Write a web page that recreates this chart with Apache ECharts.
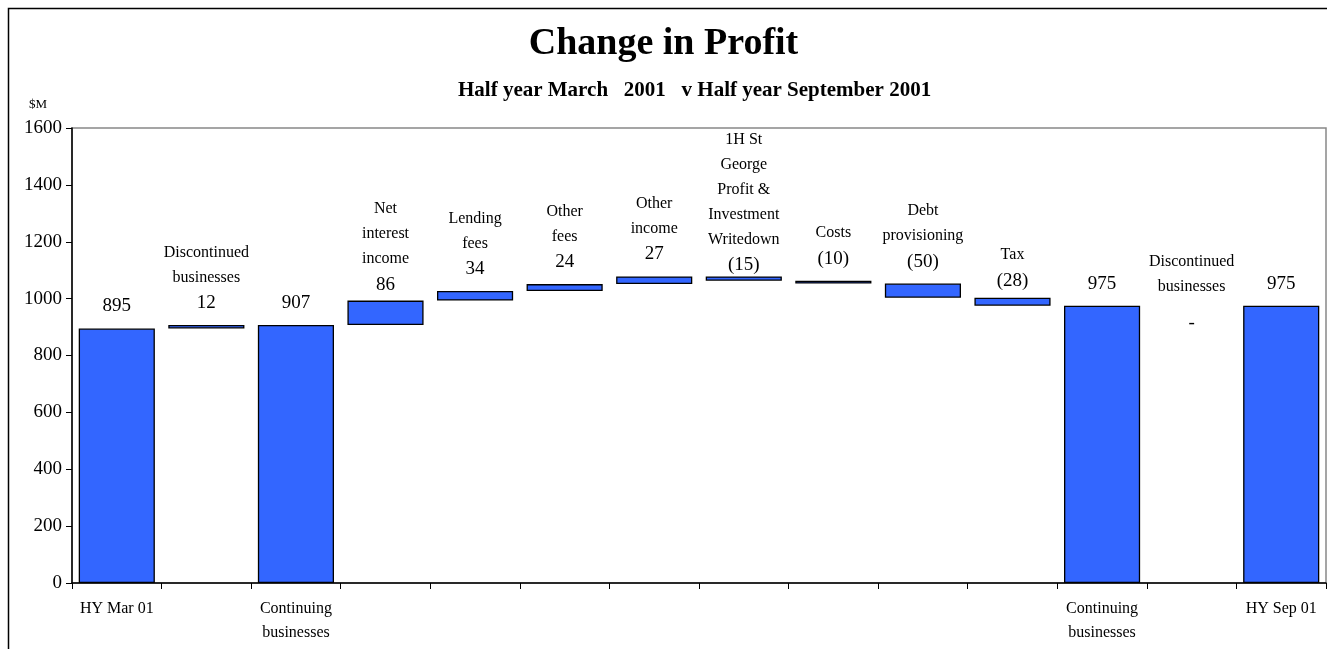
<!DOCTYPE html>
<html>
<head>
<meta charset="utf-8">
<script src="https://cdn.jsdelivr.net/npm/echarts@6/dist/echarts.min.js"></script>
<style>
  html, body { margin: 0; padding: 0; background: #fff; }
  #main { width: 1327px; height: 649px; }
</style>
</head>
<body>
<div id="main"></div>
<script>
// categories of the waterfall
var categories = ['HY Mar 01', 'Discontinued businesses', 'Continuing businesses', 'Net interest income',
  'Lending fees', 'Other fees', 'Other income', '1H St George Profit & Investment Writedown',
  'Costs', 'Debt provisioning', 'Tax', 'Continuing businesses', 'Discontinued businesses', 'HY Sep 01']
// text under the axis
var axisLabels = ['HY Mar 01', '', 'Continuing\nbusinesses', '', '', '', '', '', '', '', '',
  'Continuing\nbusinesses', '', 'HY Sep 01']
// text above the bars
var nameLabels = [[], ['Discontinued', 'businesses'], [], ['Net', 'interest', 'income'], ['Lending', 'fees'],
  ['Other', 'fees'], ['Other', 'income'], ['1H St', 'George', 'Profit &', 'Investment', 'Writedown'],
  ['Costs'], ['Debt', 'provisioning'], ['Tax'], [], ['Discontinued', 'businesses'], []]
// $M, totals and changes
var changes = [895, 12, 907, 86, 34, 24, 27, -15, -10, -50, -28, 975, 0, 975]
var isTotal = [true, false, true, false, false, false, false, false, false, false, false, true, false, true]
var valueLabels = ['895', '12', '907', '86', '34', '24', '27', '(15)', '(10)', '(50)', '(28)', '975', '-', '975']

var serif = '"Liberation Serif", "Times New Roman", serif'
// small vertical nudges of some bar labels (px)
var labelNudge = { 3: 6, 7: 11, 10: 5, 12: 50 }

var chartDom = document.getElementById('main')
var myChart = echarts.init(chartDom)

var baseData = []
var deltaData = []
var running = 0
for (var i = 0; i < changes.length; i++) {
  if (isTotal[i]) {
    baseData.push(0)
    deltaData.push(changes[i])
    running = changes[i]
  } else if (changes[i] >= 0) {
    baseData.push(running)
    deltaData.push(changes[i])
    running += changes[i]
  } else {
    baseData.push(running + changes[i])
    deltaData.push(-changes[i])
    running += changes[i]
  }
}

var deltaItems = deltaData.map(function (v, i) {
  var item = { value: v }
  if (v === 0) {
    // no bar drawn, dash shown below the level
    item.itemStyle = { borderWidth: 0 }
  }
  if (labelNudge[i]) {
    item.label = { offset: [0, labelNudge[i]] }
  }
  return item
})

var option = {
  backgroundColor: '#fff',
  animation: false,
  title: [{
    text: 'Change in Profit',
    left: 'center',
    top: 20,
    textStyle: { fontFamily: serif, fontSize: 38, fontWeight: 'bold', color: '#000' }
  }, {
    text: 'Half year March   2001   v Half year September 2001',
    left: 453,
    top: 75,
    textStyle: { fontFamily: serif, fontSize: 21, fontWeight: 'bold', color: '#000' }
  }, {
    text: '$M',
    left: 24,
    top: 93,
    textStyle: { fontFamily: serif, fontSize: 13, fontWeight: 'normal', color: '#000' }
  }],
  graphic: [{
    type: 'rect',
    shape: { x: 8.5, y: 8.5, width: 1400, height: 700 },
    style: { fill: 'none', stroke: '#000', lineWidth: 1.5 },
    silent: true
  }],
  grid: {
    left: 72,
    right: 1,
    top: 128,
    bottom: 66,
    show: true,
    borderColor: '#888',
    borderWidth: 1.5,
    containLabel: false
  },
  xAxis: {
    type: 'category',
    data: categories,
    axisLine: { lineStyle: { color: '#000', width: 1.5 } },
    axisTick: { show: true, interval: 0, length: 6, lineStyle: { color: '#000' } },
    axisLabel: {
      interval: 0,
      margin: 14,
      fontFamily: serif,
      fontSize: 16,
      lineHeight: 24,
      color: '#000',
      formatter: function (v, idx) { return axisLabels[idx] }
    },
    splitLine: { show: false }
  },
  yAxis: {
    type: 'value',
    min: 0,
    max: 1600,
    interval: 200,
    axisLine: { show: true, lineStyle: { color: '#000', width: 1.5 } },
    axisTick: { show: true, length: 6, lineStyle: { color: '#000' } },
    axisLabel: {
      fontFamily: serif,
      fontSize: 19,
      color: '#000',
      margin: 10,
      formatter: function (v) { return String(v) }
    },
    splitLine: { show: false }
  },
  series: [{
    name: 'base',
    type: 'bar',
    stack: 'w',
    silent: true,
    itemStyle: { color: 'transparent', borderWidth: 0 },
    data: baseData
  }, {
    name: 'change',
    type: 'bar',
    stack: 'w',
    barCategoryGap: '15%',
    itemStyle: { color: '#3366FF', borderColor: '#000', borderWidth: 1.3 },
    label: {
      show: true,
      position: 'top',
      distance: 9,
      color: '#000',
      fontFamily: serif,
      formatter: function (p) {
        var lines = nameLabels[p.dataIndex].map(function (s) { return '{n|' + s + '}' })
        var tag = p.value === 0 ? 'd' : 'v'
        lines.push('{' + tag + '|' + valueLabels[p.dataIndex] + '}')
        return lines.join('\n')
      },
      rich: {
        n: { fontFamily: serif, fontSize: 16, lineHeight: 25, color: '#000', align: 'center' },
        v: { fontFamily: serif, fontSize: 19, lineHeight: 26, color: '#000', align: 'center' },
        d: { fontFamily: serif, fontSize: 19, lineHeight: 47, color: '#000', align: 'center' }
      }
    },
    data: deltaItems
  }]
}

option && myChart.setOption(option)
</script>
</body>
</html>
